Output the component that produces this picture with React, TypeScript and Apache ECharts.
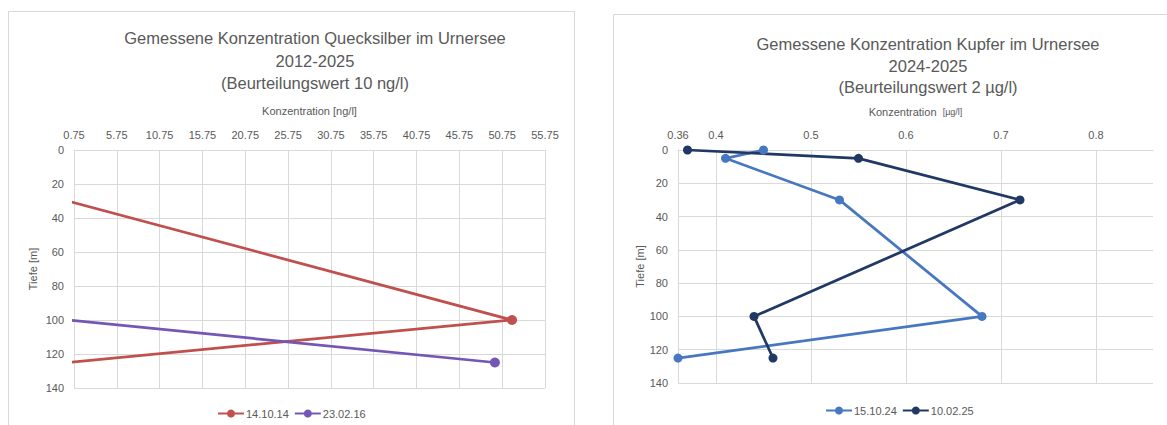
import React, { useEffect, useRef } from 'react';
import * as echarts from 'echarts';

// ---- Data ----
const hgSeriesNames = ['14.10.14', '23.02.16'];
const hgDepth1 = [30, 100, 125];
const hgConc1 = [0, 51.9, 0];
const hgDepth2 = [100, 125];
const hgConc2 = [0, 49.9];

const cuSeriesNames = ['15.10.24', '10.02.25'];
const cuDepths = [0, 5, 30, 100, 125];
const cuConc1 = [0.45, 0.41, 0.53, 0.68, 0.36];
const cuConc2 = [0.37, 0.55, 0.72, 0.44, 0.46];

const hgTitle = ['Gemessene Konzentration Quecksilber im Urnersee', '2012-2025', '(Beurteilungswert 10 ng/l)'];
const cuTitle = ['Gemessene Konzentration Kupfer im Urnersee', '2024-2025', '(Beurteilungswert 2 µg/l)'];

const textColor = '#595959';
const gridColor = '#d9d9d9';
const font = '"Liberation Sans", Arial, sans-serif';
const red = '#C0504D';
const purple = '#7456B4';
const blue = '#4677C0';
const navy = '#203864';

export default function App() {
  const ref = useRef<HTMLDivElement>(null);
  useEffect(() => {
    if (!ref.current) return;
    const chart = echarts.init(ref.current, undefined, { renderer: 'svg' });
    const axisCommonY = {
      type: 'value',
      inverse: true,
      min: 0,
      max: 140,
      interval: 20,
      name: 'Tiefe [m]',
      nameLocation: 'middle',
      nameRotate: 90,
      nameTextStyle: { color: textColor, fontSize: 11, fontFamily: font },
      axisLine: { show: true, lineStyle: { color: gridColor, width: 1 } },
      axisTick: { show: false },
      axisLabel: { color: textColor, fontSize: 11, margin: 10, fontFamily: font },
      splitLine: { show: true, lineStyle: { color: gridColor, width: 1 } },
    };
    const titleText = (lines: string[], cx: number, top: number, lh: number) =>
      lines.map((t, i) => ({
        type: 'text',
        x: cx,
        y: top + i * lh,
        style: { text: t, align: 'center', verticalAlign: 'middle', fill: textColor, fontSize: 16.5, fontFamily: font },
      }));
    const legendCommon = {
      itemWidth: 26,
      itemHeight: 10,
      itemGap: 5,
      textStyle: { color: textColor, fontSize: 11, fontFamily: font, padding: [0, 0, 0, -3] },
    };
    const option: any = {
      animation: false,
      textStyle: { fontFamily: font },
      graphic: [
        { type: 'rect', shape: { x: 8.5, y: 11.5, width: 566, height: 440 }, style: { fill: 'none', stroke: gridColor, lineWidth: 1 } },
        { type: 'rect', shape: { x: 613.5, y: 14.5, width: 580, height: 440 }, style: { fill: 'none', stroke: gridColor, lineWidth: 1 } },
        ...titleText(hgTitle, 315, 38, 22.5),
        ...titleText(cuTitle, 928, 44, 21.5),
      ],
      legend: [
        { ...legendCommon, data: hgSeriesNames, left: 212, top: 403 },
        { ...legendCommon, data: cuSeriesNames, left: 820, top: 400 },
      ],
      grid: [
        { left: 74, top: 150, width: 471, height: 238 },
        { left: 678, top: 150, width: 475, height: 233 },
      ],
      xAxis: [
        {
          gridIndex: 0,
          type: 'value',
          position: 'top',
          min: 0.75,
          max: 55.75,
          interval: 5,
          name: 'Konzentration [ng/l]',
          nameLocation: 'middle',
          nameGap: 34,
          nameTextStyle: { color: textColor, fontSize: 11, fontFamily: font },
          axisLine: { show: true, lineStyle: { color: gridColor, width: 1 } },
          axisTick: { show: false },
          axisLabel: { color: textColor, fontSize: 11, margin: 10, fontFamily: font, formatter: (v: number) => v.toFixed(2) },
          splitLine: { show: true, lineStyle: { color: gridColor, width: 1 } },
        },
        {
          gridIndex: 1,
          type: 'value',
          position: 'top',
          min: 0.36,
          max: 0.86,
          splitNumber: 5,
          name: '{a|Konzentration}  {b|[µg/l]}',
          nameLocation: 'middle',
          nameGap: 33,
          nameTextStyle: {
            color: textColor,
            fontSize: 11,
            fontFamily: font,
            rich: {
              a: { color: textColor, fontSize: 11, fontFamily: font },
              b: { color: textColor, fontSize: 9, fontFamily: font },
            },
          },
          axisLine: { show: true, lineStyle: { color: gridColor, width: 1 } },
          axisTick: { show: false },
          axisLabel: {
            color: textColor,
            fontSize: 11,
            margin: 10,
            fontFamily: font,
            showMaxLabel: false,
            formatter: (v: number) => String(Math.round(v * 100) / 100),
          },
          splitLine: { show: true, showMinLine: false, showMaxLine: false, lineStyle: { color: gridColor, width: 1 } },
        },
      ],
      yAxis: [
        { ...axisCommonY, gridIndex: 0, nameGap: 36 },
        { ...axisCommonY, gridIndex: 1, nameGap: 33 },
      ],
      series: [
        {
          name: hgSeriesNames[0],
          type: 'line',
          xAxisIndex: 0,
          yAxisIndex: 0,
          data: hgConc1.map((c, i) => [c, hgDepth1[i]]),
          symbol: 'circle',
          symbolSize: 10,
          clip: true,
          lineStyle: { color: red, width: 2.75 },
          itemStyle: { color: red },
        },
        {
          name: hgSeriesNames[1],
          type: 'line',
          xAxisIndex: 0,
          yAxisIndex: 0,
          data: hgConc2.map((c, i) => [c, hgDepth2[i]]),
          symbol: 'circle',
          symbolSize: 10,
          clip: true,
          lineStyle: { color: purple, width: 2.75 },
          itemStyle: { color: purple },
        },
        {
          name: cuSeriesNames[0],
          type: 'line',
          xAxisIndex: 1,
          yAxisIndex: 1,
          data: cuConc1.map((c, i) => [c, cuDepths[i]]),
          symbol: 'circle',
          symbolSize: 9,
          clip: false,
          lineStyle: { color: blue, width: 2.75 },
          itemStyle: { color: blue },
        },
        {
          name: cuSeriesNames[1],
          type: 'line',
          xAxisIndex: 1,
          yAxisIndex: 1,
          data: cuConc2.map((c, i) => [c, cuDepths[i]]),
          symbol: 'circle',
          symbolSize: 9,
          clip: false,
          lineStyle: { color: navy, width: 2.75 },
          itemStyle: { color: navy },
        },
      ],
    };
    chart.setOption(option);
    return () => chart.dispose();
  }, []);
  return (
    <div
      ref={ref}
      style={{ position: 'fixed', left: 0, top: 0, width: 1167, height: 425, background: '#fff' }}
    />
  );
}
